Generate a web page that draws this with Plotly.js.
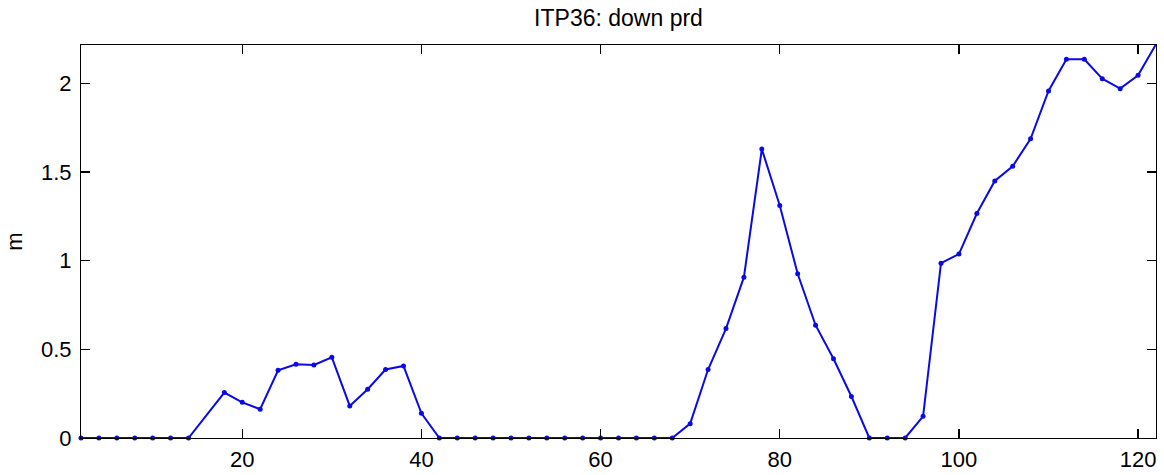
<!DOCTYPE html>
<html>
<head>
<meta charset="utf-8">
<script src="https://cdn.plot.ly/plotly-3.0.1.min.js"></script>
<style>html,body{margin:0;padding:0;background:#fff;}#chart{width:1164px;height:475px;}</style>
</head>
<body>
<div id="chart"></div>
<script>
const profileX = [2,4,6,8,10,12,14,18,20,22,24,26,28,30,32,34,36,38,40,42,44,46,48,50,52,54,56,58,60,62,64,66,68,70,72,74,76,78,80,82,84,86,88,90,92,94,96,98,100,102,104,106,108,110,112,114,116,118,120,122];
const downPrd = [0,0,0,0,0,0,0,0.256,0.201,0.162,0.382,0.416,0.412,0.455,0.181,0.275,0.386,0.406,0.139,0,0,0,0,0,0,0,0,0,0,0,0,0,0,0.081,0.386,0.617,0.907,1.629,1.311,0.926,0.636,0.447,0.234,0,0,0,0.122,0.986,1.037,1.266,1.449,1.532,1.687,1.957,2.135,2.135,2.026,1.970,2.045,2.22];
const xTicks = [20,40,60,80,100,120];
const yTicks = [0,0.5,1,1.5,2];
const yTickLabels = ['0','0.5','1','1.5','2'];
const titleText = 'ITP36: down prd';
const yLabel = 'm';

const font = 'Liberation Sans, Arial, Helvetica, sans-serif';
const trace = {
  x: profileX, y: downPrd, type: 'scatter', mode: 'lines+markers',
  line: {color: '#0a0ae6', width: 2},
  marker: {color: '#0a0ae6', size: 5},
  cliponaxis: false, hoverinfo: 'x+y'
};
const axisCommon = {
  showgrid: false, zeroline: false, showline: true, linecolor: '#000', linewidth: 1,
  mirror: 'ticks', ticks: 'inside', ticklen: 9, tickcolor: '#000', tickwidth: 1.2,
  tickfont: {family: font, size: 22, color: '#000'}
};
const layout = {
  width: 1164, height: 475,
  margin: {l: 81, r: 8, t: 45, b: 37},
  paper_bgcolor: '#fff', plot_bgcolor: '#fff',
  showlegend: false,
  title: {text: titleText, x: 0.5, xanchor: 'center', y: 0.963, yanchor: 'middle', xref: 'paper',
          font: {family: font, size: 23, color: '#000'}},
  xaxis: Object.assign({}, axisCommon, {range: [2, 122], tickvals: xTicks, ticktext: xTicks.map(String), ticklabelstandoff: 2}),
  yaxis: Object.assign({}, axisCommon, {range: [0, 2.216], tickvals: yTicks, ticktext: yTickLabels, ticklabelstandoff: 4,
          title: {text: yLabel, standoff: 12, font: {family: font, size: 22, color: '#000'}}})
};
Plotly.newPlot('chart', [trace], layout, {displayModeBar: false, staticPlot: true});
</script>
</body>
</html>
